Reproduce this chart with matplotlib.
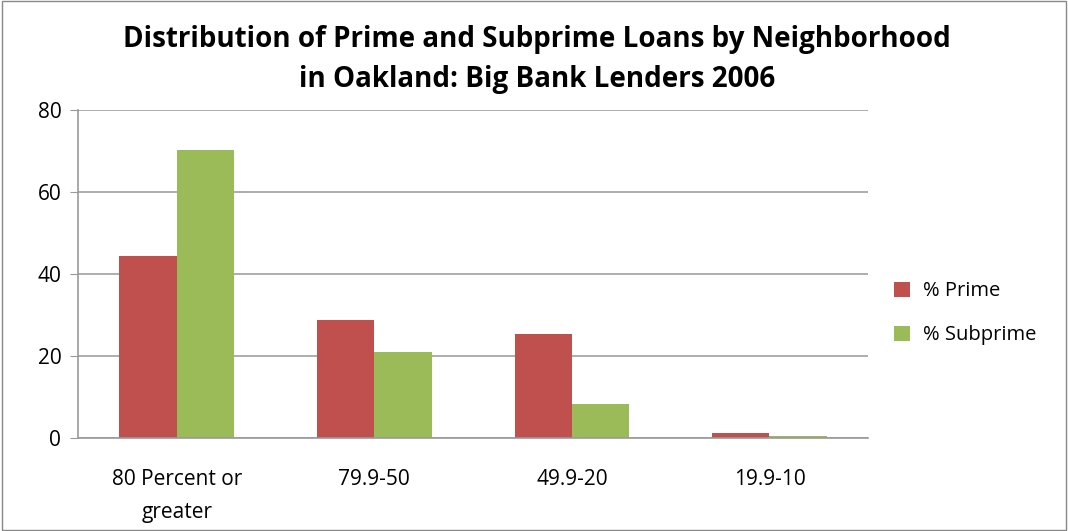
import matplotlib
matplotlib.use("Agg")
import matplotlib.pyplot as plt
import numpy as np

categories = ["80 Percent or\ngreater", "79.9-50", "49.9-20", "19.9-10"]
prime = [44.5, 28.8, 25.3, 1.3]
subprime = [70.2, 21.0, 8.3, 0.5]
series_names = ["% Prime", "% Subprime"]
yticks = [0, 20, 40, 60, 80]

plt.rcParams['font.family'] = ['Open Sans', 'DejaVu Sans']

fig = plt.figure(figsize=(10.68, 5.31), dpi=100)
ax = fig.add_axes([0.073, 0.175, 0.74, 0.618])

x = np.arange(len(categories))
w = 0.29
ax.bar(x - w/2, prime, w, color="#C0504D", label=series_names[0])
ax.bar(x + w/2, subprime, w, color="#9BBB59", label=series_names[1])

ax.set_xlim(-0.5, len(categories) - 0.5)
ax.set_ylim(0, 80)
ax.set_yticks(yticks)
ax.set_xticks(x)
ax.set_xticklabels(categories, fontsize=15, linespacing=1.75)
ax.tick_params(axis='x', length=0, pad=22)
ax.tick_params(axis='y', length=6, color="#999999", labelsize=15, pad=6)
ax.grid(axis='y', color="#A0A0A0", linewidth=1.2)
ax.set_axisbelow(True)
for s in ["top", "right"]:
    ax.spines[s].set_visible(False)
ax.spines["left"].set_color("#999999")
ax.spines["bottom"].set_color("#999999")
ax.spines["left"].set_linewidth(1.2)
ax.spines["bottom"].set_linewidth(1.2)

fig.suptitle("Distribution of Prime and Subprime Loans by Neighborhood\nin Oakland: Big Bank Lenders 2006",
             fontsize=20, fontweight="bold", y=0.952, x=0.503, linespacing=1.5)

leg = ax.legend(loc="center left", bbox_to_anchor=(1.01, 0.38), frameon=False,
                fontsize=14.5, handlelength=0.8, handleheight=0.8, labelspacing=1.2,
                handletextpad=0.6)

border = plt.Rectangle((0.002, 0.002), 0.996, 0.996, transform=fig.transFigure,
                       fill=False, edgecolor="#888888", linewidth=1)
fig.patches.append(border)

fig.savefig("out.png", dpi=100)
